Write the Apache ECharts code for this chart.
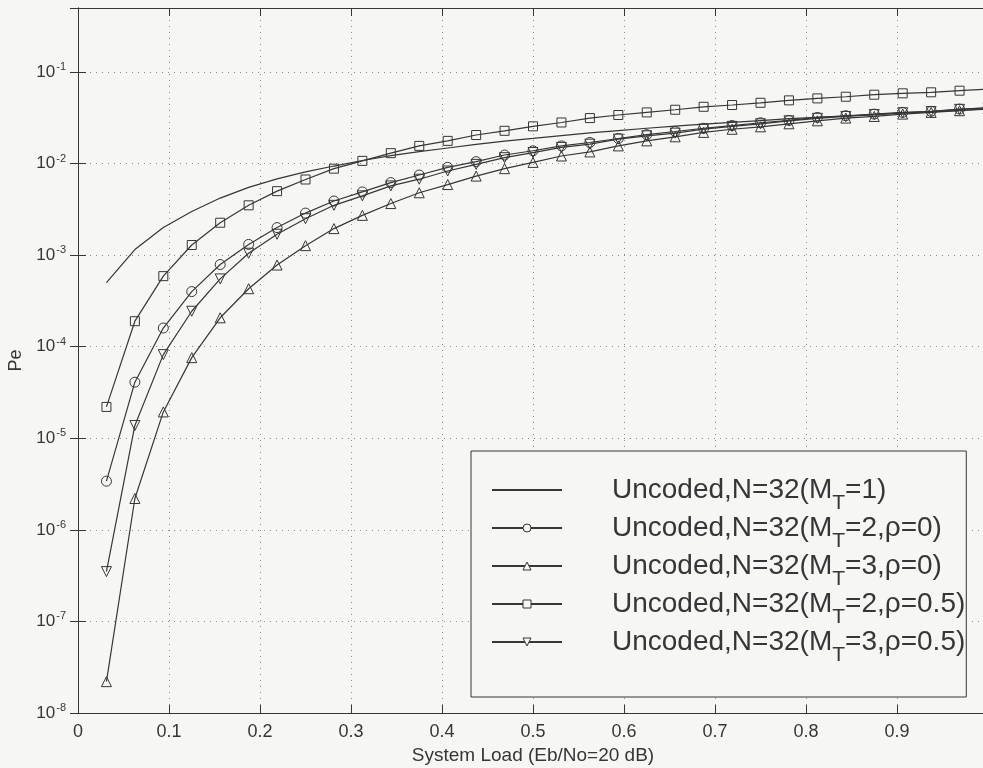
<!DOCTYPE html>
<html>
<head>
<meta charset="utf-8">
<script src="https://cdn.jsdelivr.net/npm/echarts@6/dist/echarts.min.js"></script>
<style>
  html, body { margin: 0; padding: 0; background: #f6f6f4; }
  #chart { width: 983px; height: 768px; }
</style>
</head>
<body>
<div id="chart"></div>
<script>
// 系统负载 K/N, N=32
const loads = [0.03125, 0.0625, 0.09375, 0.125, 0.15625, 0.1875, 0.21875, 0.25,
  0.28125, 0.3125, 0.34375, 0.375, 0.40625, 0.4375, 0.46875, 0.5,
  0.53125, 0.5625, 0.59375, 0.625, 0.65625, 0.6875, 0.71875, 0.75,
  0.78125, 0.8125, 0.84375, 0.875, 0.90625, 0.9375, 0.96875, 1.0]

// M_T=1 (no markers)
const peMt1 = [5.0e-4, 1.15e-3, 2.0e-3, 3.0e-3, 4.2e-3, 5.5e-3, 6.8e-3, 8.1e-3,
  9.4e-3, 1.08e-2, 1.22e-2, 1.35e-2, 1.48e-2, 1.62e-2, 1.76e-2, 1.88e-2,
  2.02e-2, 2.16e-2, 2.29e-2, 2.43e-2, 2.57e-2, 2.69e-2, 2.82e-2, 2.95e-2,
  3.09e-2, 3.20e-2, 3.31e-2, 3.43e-2, 3.55e-2, 3.67e-2, 3.80e-2, 3.94e-2]
// M_T=2, rho=0 (circle)
const peMt2r0 = [3.4e-6, 4.1e-5, 1.6e-4, 4.0e-4, 7.9e-4, 1.31e-3, 2.0e-3, 2.88e-3,
  3.9e-3, 4.9e-3, 6.2e-3, 7.5e-3, 9.1e-3, 1.05e-2, 1.24e-2, 1.38e-2,
  1.56e-2, 1.70e-2, 1.88e-2, 2.07e-2, 2.24e-2, 2.43e-2, 2.60e-2, 2.79e-2,
  2.96e-2, 3.19e-2, 3.33e-2, 3.47e-2, 3.62e-2, 3.72e-2, 3.94e-2, 4.07e-2]
// M_T=3, rho=0 (triangle up)
const peMt3r0 = [2.2e-8, 2.2e-6, 1.94e-5, 7.6e-5, 2.07e-4, 4.3e-4, 7.8e-4, 1.27e-3,
  1.95e-3, 2.72e-3, 3.66e-3, 4.8e-3, 5.9e-3, 7.3e-3, 8.8e-3, 1.03e-2,
  1.21e-2, 1.34e-2, 1.56e-2, 1.77e-2, 1.96e-2, 2.19e-2, 2.37e-2, 2.52e-2,
  2.72e-2, 2.93e-2, 3.14e-2, 3.27e-2, 3.47e-2, 3.62e-2, 3.78e-2, 3.98e-2]
// M_T=2, rho=0.5 (square)
const peMt2r05 = [2.2e-5, 1.9e-4, 5.9e-4, 1.29e-3, 2.26e-3, 3.5e-3, 5.0e-3, 6.7e-3,
  8.8e-3, 1.07e-2, 1.30e-2, 1.56e-2, 1.77e-2, 2.05e-2, 2.28e-2, 2.55e-2,
  2.81e-2, 3.14e-2, 3.39e-2, 3.62e-2, 3.87e-2, 4.17e-2, 4.36e-2, 4.61e-2,
  4.90e-2, 5.15e-2, 5.37e-2, 5.65e-2, 5.85e-2, 6.0e-2, 6.25e-2, 6.5e-2]
// M_T=3, rho=0.5 (triangle down)
const peMt3r05 = [3.5e-7, 1.38e-5, 8.2e-5, 2.44e-4, 5.5e-4, 1.05e-3, 1.69e-3, 2.5e-3,
  3.5e-3, 4.44e-3, 5.7e-3, 6.75e-3, 8.3e-3, 9.8e-3, 1.16e-2, 1.32e-2,
  1.50e-2, 1.63e-2, 1.85e-2, 2.01e-2, 2.15e-2, 2.38e-2, 2.55e-2, 2.72e-2,
  2.93e-2, 3.12e-2, 3.27e-2, 3.43e-2, 3.59e-2, 3.70e-2, 3.91e-2, 4.06e-2]

const seriesNames = [
  'Uncoded,N=32(M_T=1)',
  'Uncoded,N=32(M_T=2,ρ=0)',
  'Uncoded,N=32(M_T=3,ρ=0)',
  'Uncoded,N=32(M_T=2,ρ=0.5)',
  'Uncoded,N=32(M_T=3,ρ=0.5)'
]
const xTicks = [0, 0.1, 0.2, 0.3, 0.4, 0.5, 0.6, 0.7, 0.8, 0.9]

const ink = '#363636'
const bg = '#f6f6f4'
const font = 'Liberation Sans'

const toPairs = vals => loads.map((x, i) => [x, vals[i]])

const mkSeries = (name, vals, symbol, size, rotate) => ({
  name,
  type: 'line',
  data: toPairs(vals),
  symbol,
  symbolSize: size,
  symbolRotate: rotate || 0,
  showSymbol: symbol !== 'none',
  lineStyle: { color: ink, width: 1.2 },
  itemStyle: { color: 'rgba(0,0,0,0)', borderColor: ink, borderWidth: 1 },
  emphasis: { disabled: true },
  silent: true
})

const chart = echarts.init(document.getElementById('chart'))

const logLabel = v => {
  const e = Math.round(Math.log10(v))
  if (Math.abs(v - Math.pow(10, e)) / v > 1e-6) return ''
  return '{b|10}{sup|' + e + '}'
}

// 图例标记样式
const legendMark = { color: bg, borderColor: ink, borderWidth: 1 }

const option = {
  backgroundColor: bg,
  animation: false,
  textStyle: { fontFamily: font, color: ink },
  grid: { left: 78, top: 8, width: 910, height: 705, outerBoundsMode: 'none', containLabel: false },
  legend: {
    orient: 'vertical',
    left: 471,
    top: 451,
    itemWidth: 70,
    itemHeight: 10,
    itemGap: 0,
    padding: [25, 1, 31, 20],
    backgroundColor: bg,
    borderColor: ink,
    borderWidth: 1,
    borderRadius: 0,
    selectedMode: false,
    data: seriesNames.map((n, i) => ({
      name: n,
      itemStyle: i === 0 ? { opacity: 0 } : legendMark
    })),
    formatter: name => {
      const p = name.split('_T')
      return '{b|' + p[0] + '}{sub|T}{b|' + p[1] + '}'
    },
    textStyle: {
      color: ink,
      fontFamily: font,
      fontSize: 28,
      padding: [0, 0, 0, 45],
      rich: {
        b: { fontSize: 28, lineHeight: 48, fontFamily: font, color: ink },
        sub: { fontSize: 21, lineHeight: 21, verticalAlign: 'bottom', fontFamily: font, color: ink }
      }
    }
  },
  xAxis: [
    {
      type: 'value',
      min: 0,
      max: 1,
      interval: 0.1,
      name: 'System Load (Eb/No=20 dB)',
      nameLocation: 'middle',
      nameGap: 33,
      nameTextStyle: { fontSize: 19, color: ink, fontFamily: font },
      axisLine: { lineStyle: { color: ink, width: 1 } },
      axisTick: { inside: true, length: 8, lineStyle: { color: ink } },
      axisLabel: {
        margin: 10,
        fontSize: 18,
        color: ink,
        fontFamily: font,
        formatter: v => (xTicks.some(t => Math.abs(t - v) < 1e-9) ? String(Number(v.toFixed(1))) : '')
      },
      splitLine: { show: true, lineStyle: { color: '#8a8a8a', type: [1, 5], width: 1 } }
    },
    {
      type: 'value',
      position: 'top',
      min: 0,
      max: 1,
      interval: 0.1,
      axisLine: { lineStyle: { color: ink, width: 1 } },
      axisTick: { inside: true, length: 8, lineStyle: { color: ink } },
      axisLabel: { show: false },
      splitLine: { show: false }
    }
  ],
  yAxis: [
    {
      type: 'log',
      logBase: 10,
      min: 1e-8,
      max: 0.5,
      name: 'Pe',
      nameLocation: 'middle',
      nameGap: 41,
      nameTextStyle: { fontSize: 18, color: ink, fontFamily: font },
      axisLine: { show: true, lineStyle: { color: ink, width: 1 } },
      axisTick: { show: true, inside: true, length: 8, lineStyle: { color: ink } },
      axisLabel: {
        margin: 12,
        color: ink,
        fontFamily: font,
        formatter: logLabel,
        rich: {
          b: { fontSize: 17, color: ink, fontFamily: font },
          sup: { fontSize: 11, lineHeight: 12, padding: [0, 0, 10, 1], color: ink, fontFamily: font }
        }
      },
      splitLine: { show: true, lineStyle: { color: '#8a8a8a', type: [1, 5], width: 1 } }
    },
    {
      type: 'log',
      logBase: 10,
      min: 1e-8,
      max: 0.5,
      position: 'right',
      axisLine: { show: true, lineStyle: { color: ink, width: 1 } },
      axisTick: { show: true, inside: true, length: 8, lineStyle: { color: ink } },
      axisLabel: { show: false },
      splitLine: { show: false }
    }
  ],
  series: [
    mkSeries(seriesNames[0], peMt1, 'none', 0),
    mkSeries(seriesNames[1], peMt2r0, 'circle', 10),
    mkSeries(seriesNames[2], peMt3r0, 'triangle', 10),
    mkSeries(seriesNames[3], peMt2r05, 'rect', 9),
    mkSeries(seriesNames[4], peMt3r05, 'triangle', 10, 180)
  ]
}

chart.setOption(option)
</script>
</body>
</html>
